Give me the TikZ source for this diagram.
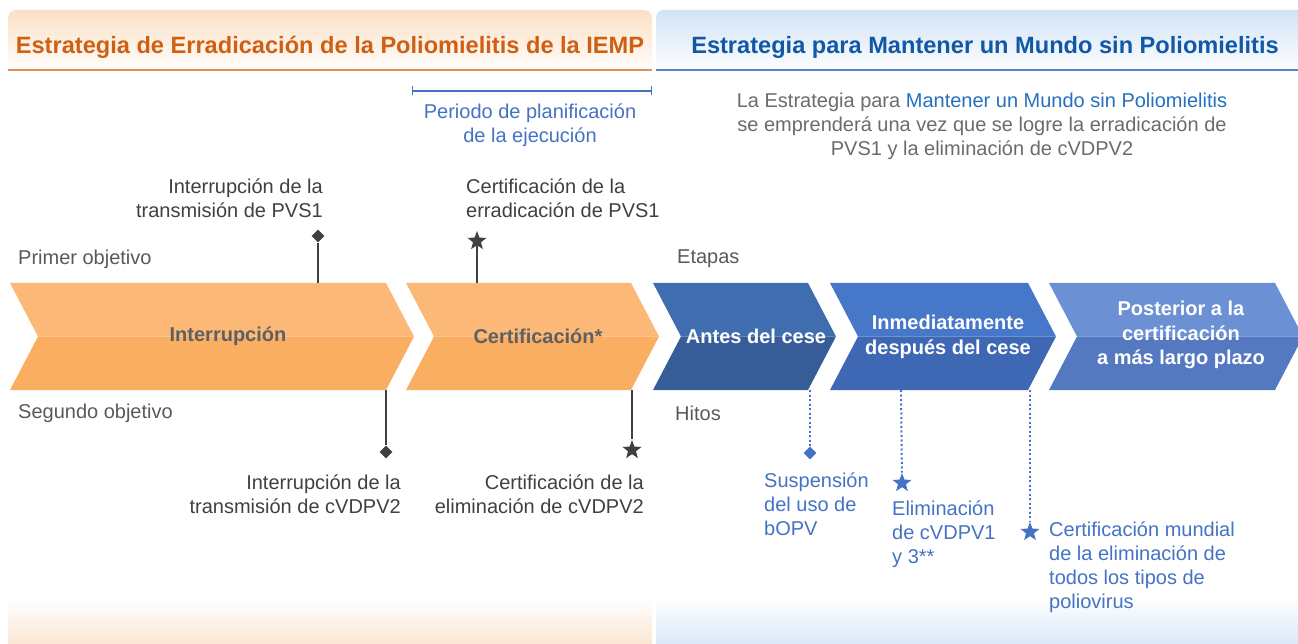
\documentclass[tikz,border=0pt]{standalone}
\usepackage{fontspec}
\setmainfont{Liberation Sans}
\usetikzlibrary{calc}
\usetikzlibrary{arrows.meta}
\usetikzlibrary{positioning}
\usetikzlibrary{shapes.geometric}

\definecolor{hdrOrange}{HTML}{FBE0C4}
\definecolor{hdrBlue}{HTML}{D2E3F5}
\definecolor{botOrange}{HTML}{FBE6D3}
\definecolor{botBlue}{HTML}{D9E8F7}
\definecolor{titleOrange}{HTML}{CF5F12}
\definecolor{titleBlue}{HTML}{1158A6}
\definecolor{lineOrange}{HTML}{D9925A}
\definecolor{lineBlue}{HTML}{5685C4}
\definecolor{txtGray}{HTML}{404040}
\definecolor{lblGray}{HTML}{595959}
\definecolor{introGray}{HTML}{6B6B6B}
\definecolor{introBlue}{HTML}{2470BE}
\definecolor{hitoBlue}{HTML}{4472C4}
\definecolor{chevGray}{HTML}{5F6062}
\definecolor{orTop}{HTML}{FBB876}
\definecolor{orBot}{HTML}{F9AE62}
\definecolor{bOneTop}{HTML}{3F6DB0}
\definecolor{bOneBot}{HTML}{375D99}
\definecolor{bTwoTop}{HTML}{4677C9}
\definecolor{bTwoBot}{HTML}{3E67B4}
\definecolor{bThrTop}{HTML}{6B90D4}
\definecolor{bThrBot}{HTML}{5479C1}

\newcommand\txtsize{\fontsize{20}{24}\selectfont}
\newcommand\hdrsize{\fontsize{23.6}{28}\selectfont\bfseries}
\newcommand\chevsize{\fontsize{20}{24.5}\selectfont\bfseries}

\begin{document}
\begin{tikzpicture}[x=1pt, y=-1pt,
  lbl/.style={inner sep=0pt, text=lblGray, font=\txtsize, anchor=west},
  mtxt/.style={inner sep=0pt, text=txtGray, font=\txtsize},
  htxt/.style={inner sep=0pt, text=hitoBlue, font=\txtsize, align=left, anchor=west},
  chevtxt/.style={inner sep=0pt, font=\chevsize, align=center},
  dmark/.style={diamond, fill=#1, inner sep=0pt, minimum size=13pt},
  smark/.style={star, star points=5, star point ratio=2.4, fill=#1, inner sep=0pt, minimum size=20pt},
  stem/.style={txtGray, line width=1.5pt},
  dotstem/.style={hitoBlue, line width=2pt, dash pattern=on 2pt off 2.5pt}]
  \useasboundingbox (0,0) rectangle (1298,644);
  % 顶部标题栏背景
  \shade[top color=hdrOrange, bottom color=white, rounded corners=8pt] (8,10) rectangle (652,74);
  \shade[top color=hdrBlue, bottom color=white, rounded corners=8pt] (656,10) rectangle (1306,74);
  \draw[lineOrange, line width=1.5pt] (8,70) -- (652,70);
  \draw[lineBlue, line width=1.5pt] (656,70) -- (1298,70);
  % 底部渐变
  \shade[top color=white, bottom color=botOrange] (8,598) rectangle (652,644);
  \shade[top color=white, bottom color=botBlue] (656,598) rectangle (1298,644);
  % 标题
  \node[font=\hdrsize, text=titleOrange, inner sep=0pt] (tleft) at (330,47) {Estrategia de Erradicación de la Poliomielitis de la IEMP};
  \node[font=\hdrsize, text=titleBlue, inner sep=0pt] (tright) at (985,47) {Estrategia para Mantener un Mundo sin Poliomielitis};
  % 规划期
  \coordinate (pa) at (412,91);
  \coordinate (pb) at (652,91);
  \draw[hitoBlue, line width=1.2pt, {Bar[width=9pt]}-{Bar[width=9pt]}] (pa) -- (pb);
  \node[inner sep=0pt, text=hitoBlue, font=\txtsize, align=center] (periodo) at (530,125) {Periodo de planificación\\de la ejecución};
  \node[inner sep=0pt, text=introGray, font=\txtsize, align=center] (intro) at (982,126)
    {La Estrategia para \textcolor{introBlue}{Mantener un Mundo sin Poliomielitis}\\se emprenderá una vez que se logre la erradicación de\\PVS1 y la eliminación de cVDPV2};
  % 行标签
  \node[lbl] (primer) at (18,259) {Primer objetivo};
  \node[lbl] (segundo) at (18,413) {Segundo objetivo};
  \node[lbl] (etapas) at (677,259) {Etapas};
  \node[lbl] (hitos) at (675,413) {Hitos};
  % 循环绘制箭头块（上下两色）
  \foreach \xl/\xr/\ct/\cb in {10/386/orTop/orBot, 406/631/orTop/orBot, 653/808/bOneTop/bOneBot,
    830/1028/bTwoTop/bTwoBot, 1049/1275/bThrTop/bThrBot}
  {
    \fill[\ct] (\xl,283) -- (\xr,283) -- (\xr+28,336.5) -- (\xl+28,336.5) -- cycle;
    \fill[\cb] (\xl+28,336.5) -- (\xr+28,336.5) -- (\xr,390) -- (\xl,390) -- cycle;
  }
  % 箭头块文字
  \node[chevtxt, text=chevGray] (interr) at (228,336) {Interrupción};
  \node[chevtxt, text=chevGray] (certif) at (538,336) {Certificación*};
  \node[chevtxt, text=white] (antes) at (756,336) {Antes del cese};
  \node[chevtxt, text=white] (inmed) at (948,337) {Inmediatamente\\después del cese};
  \node[chevtxt, text=white] (poster) at (1181,335) {Posterior a la\\certificación\\a más largo plazo};
  % 边缘上的命名坐标
  \coordinate (e1) at (318,283);
  \coordinate (e2) at (477,283);
  \coordinate (e3) at (386,390);
  \coordinate (e4) at (632,390);
  \coordinate (e5) at (810,390);
  \coordinate (e6) at (901,390);
  \coordinate (e7) at (1030,390);
  % 第一、第二目标的里程碑
  \node[dmark=txtGray] (m1) at (318,236) {};
  \node[smark=txtGray] (m2) at (477,241) {};
  \node[dmark=txtGray] (m3) at (386,452) {};
  \node[smark=txtGray] (m4) at (632,450) {};
  \draw[stem] (m1) -- (e1);
  \draw[stem] (m2) -- (e2);
  \draw[stem] (e3) -- (m3);
  \draw[stem] (e4) -- (m4);
  \node[mtxt, align=right, anchor=east] (n1) at (323,198) {Interrupción de la\\transmisión de PVS1};
  \node[mtxt, align=left, anchor=west] (n2) at (466,198) {Certificación de la\\erradicación de PVS1};
  \node[mtxt, align=right, anchor=east] (n3) at (401,494) {Interrupción de la\\transmisión de cVDPV2};
  \node[mtxt, align=right, anchor=east] (n4) at (644,494) {Certificación de la\\eliminación de cVDPV2};
  % 阶段的里程碑（虚线）
  \node[dmark=hitoBlue] (h1) at (810,453) {};
  \node[smark=hitoBlue] (h2) at (902,483) {};
  \node[smark=hitoBlue] (h3) at (1030,532) {};
  \draw[dotstem] (e5) -- (h1);
  \draw[dotstem] (e6) -- (h2);
  \draw[dotstem] (e7) -- (h3);
  \node[htxt] (t1) at (764,504) {Suspensión\\del uso de\\bOPV};
  \node[htxt] (t2) at (892,534) {Eliminación\\de cVDPV1\\y 3**};
  \node[htxt] (t3) at (1049,567) {Certificación mundial\\de la eliminación de\\todos los tipos de\\poliovirus};
\end{tikzpicture}
\end{document}
